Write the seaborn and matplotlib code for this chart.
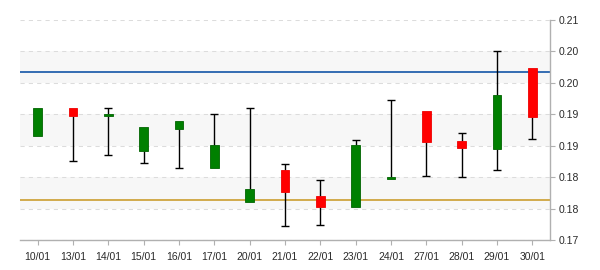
import numpy as np
import pandas as pd
import matplotlib
matplotlib.use("Agg")
import matplotlib.pyplot as plt
import seaborn as sns
from matplotlib.ticker import FixedLocator, FixedFormatter

dates = ["10/01", "13/01", "14/01", "15/01", "16/01", "17/01", "20/01", "21/01",
         "22/01", "23/01", "24/01", "27/01", "28/01", "29/01", "30/01"]
open_ = [0.1915, 0.1960, 0.1948, 0.1892, 0.1927, 0.1864, 0.1811, 0.1862,
         0.1820, 0.1803, 0.1847, 0.1956, 0.1907, 0.1894, 0.2024]
close = [0.1960, 0.1948, 0.1951, 0.1929, 0.1940, 0.1901, 0.1831, 0.1827,
         0.1803, 0.1901, 0.1850, 0.1906, 0.1896, 0.1980, 0.1946]
high = [0.1960, 0.1960, 0.1960, 0.1929, 0.1940, 0.1950, 0.1960, 0.1871,
        0.1845, 0.1909, 0.1972, 0.1956, 0.1921, 0.2050, 0.2024]
low = [0.1915, 0.1876, 0.1885, 0.1872, 0.1864, 0.1864, 0.1811, 0.1772,
       0.1774, 0.1803, 0.1847, 0.1852, 0.1850, 0.1862, 0.1911]
upper_line = 0.2017
lower_line = 0.1813
ytick_vals = [0.175, 0.18, 0.185, 0.19, 0.195, 0.20, 0.205, 0.21]
ytick_labels = ["0.17", "0.18", "0.18", "0.19", "0.19", "0.20", "0.20", "0.21"]
bands = [(0.18, 0.185), (0.19, 0.195), (0.20, 0.205)]

df = pd.DataFrame({"date": dates, "open": open_, "close": close,
                   "high": high, "low": low})
df["x"] = np.arange(len(df))

sns.set_theme(style="white")
plt.rcParams["font.family"] = ["Liberation Sans", "DejaVu Sans"]

fig = plt.figure(figsize=(6, 2.7), dpi=100)
ax = fig.add_axes([20 / 600, 1 - 240 / 270, 530 / 600, 220 / 270])

for lo, hi in bands:
    ax.axhspan(lo, hi, color="#f7f7f7", zorder=0, lw=0)
for v in ytick_vals:
    ax.axhline(v, color="#dcdcdc", lw=0.75, ls=(0, (4, 4)), zorder=0.5)

ax.axhline(upper_line, color="#0047a0", lw=1.1, zorder=1)
ax.axhline(lower_line, color="#c8961e", lw=1.1, zorder=1)

cap = 0.11
for _, r in df.iterrows():
    top = max(r["open"], r["close"])
    bot = min(r["open"], r["close"])
    if r["high"] > top + 1e-9:
        ax.vlines(r["x"], top, r["high"], color="black", lw=1.0, zorder=2)
        ax.hlines(r["high"], r["x"] - cap, r["x"] + cap, color="black", lw=1.0, zorder=2)
    if r["low"] < bot - 1e-9:
        ax.vlines(r["x"], r["low"], bot, color="black", lw=1.0, zorder=2)
        ax.hlines(r["low"], r["x"] - cap, r["x"] + cap, color="black", lw=1.0, zorder=2)
    up = r["close"] >= r["open"]
    ax.bar(r["x"], top - bot, bottom=bot, width=0.25,
           color="#008000" if up else "#ff0000",
           edgecolor="#006400" if up else "#ee0000", lw=0.6, zorder=3)

ax.set_xlim(-0.5, len(df) - 0.5)
ax.set_ylim(0.175, 0.21)
ax.set_xticks(df["x"])
ax.set_xticklabels(dates)
ax.yaxis.tick_right()
ax.yaxis.set_major_locator(FixedLocator(ytick_vals))
ax.yaxis.set_major_formatter(FixedFormatter(ytick_labels))

for s in ["top", "left"]:
    ax.spines[s].set_visible(False)
for s in ["bottom", "right"]:
    ax.spines[s].set_color("#b0b0b0")
    ax.spines[s].set_linewidth(1)

ax.tick_params(axis="x", which="both", bottom=True, length=3.5, width=0.8,
               color="#b0b0b0", labelsize=7.5, labelcolor="#2a2a2a", pad=5)
ax.tick_params(axis="y", which="both", right=True, left=False, length=3.5, width=0.8,
               color="#b0b0b0", labelsize=7.5, labelcolor="#2a2a2a", pad=3)
ax.set_xlabel("")
ax.set_ylabel("")
ax.grid(False)

fig.savefig("out.png", dpi=100)
